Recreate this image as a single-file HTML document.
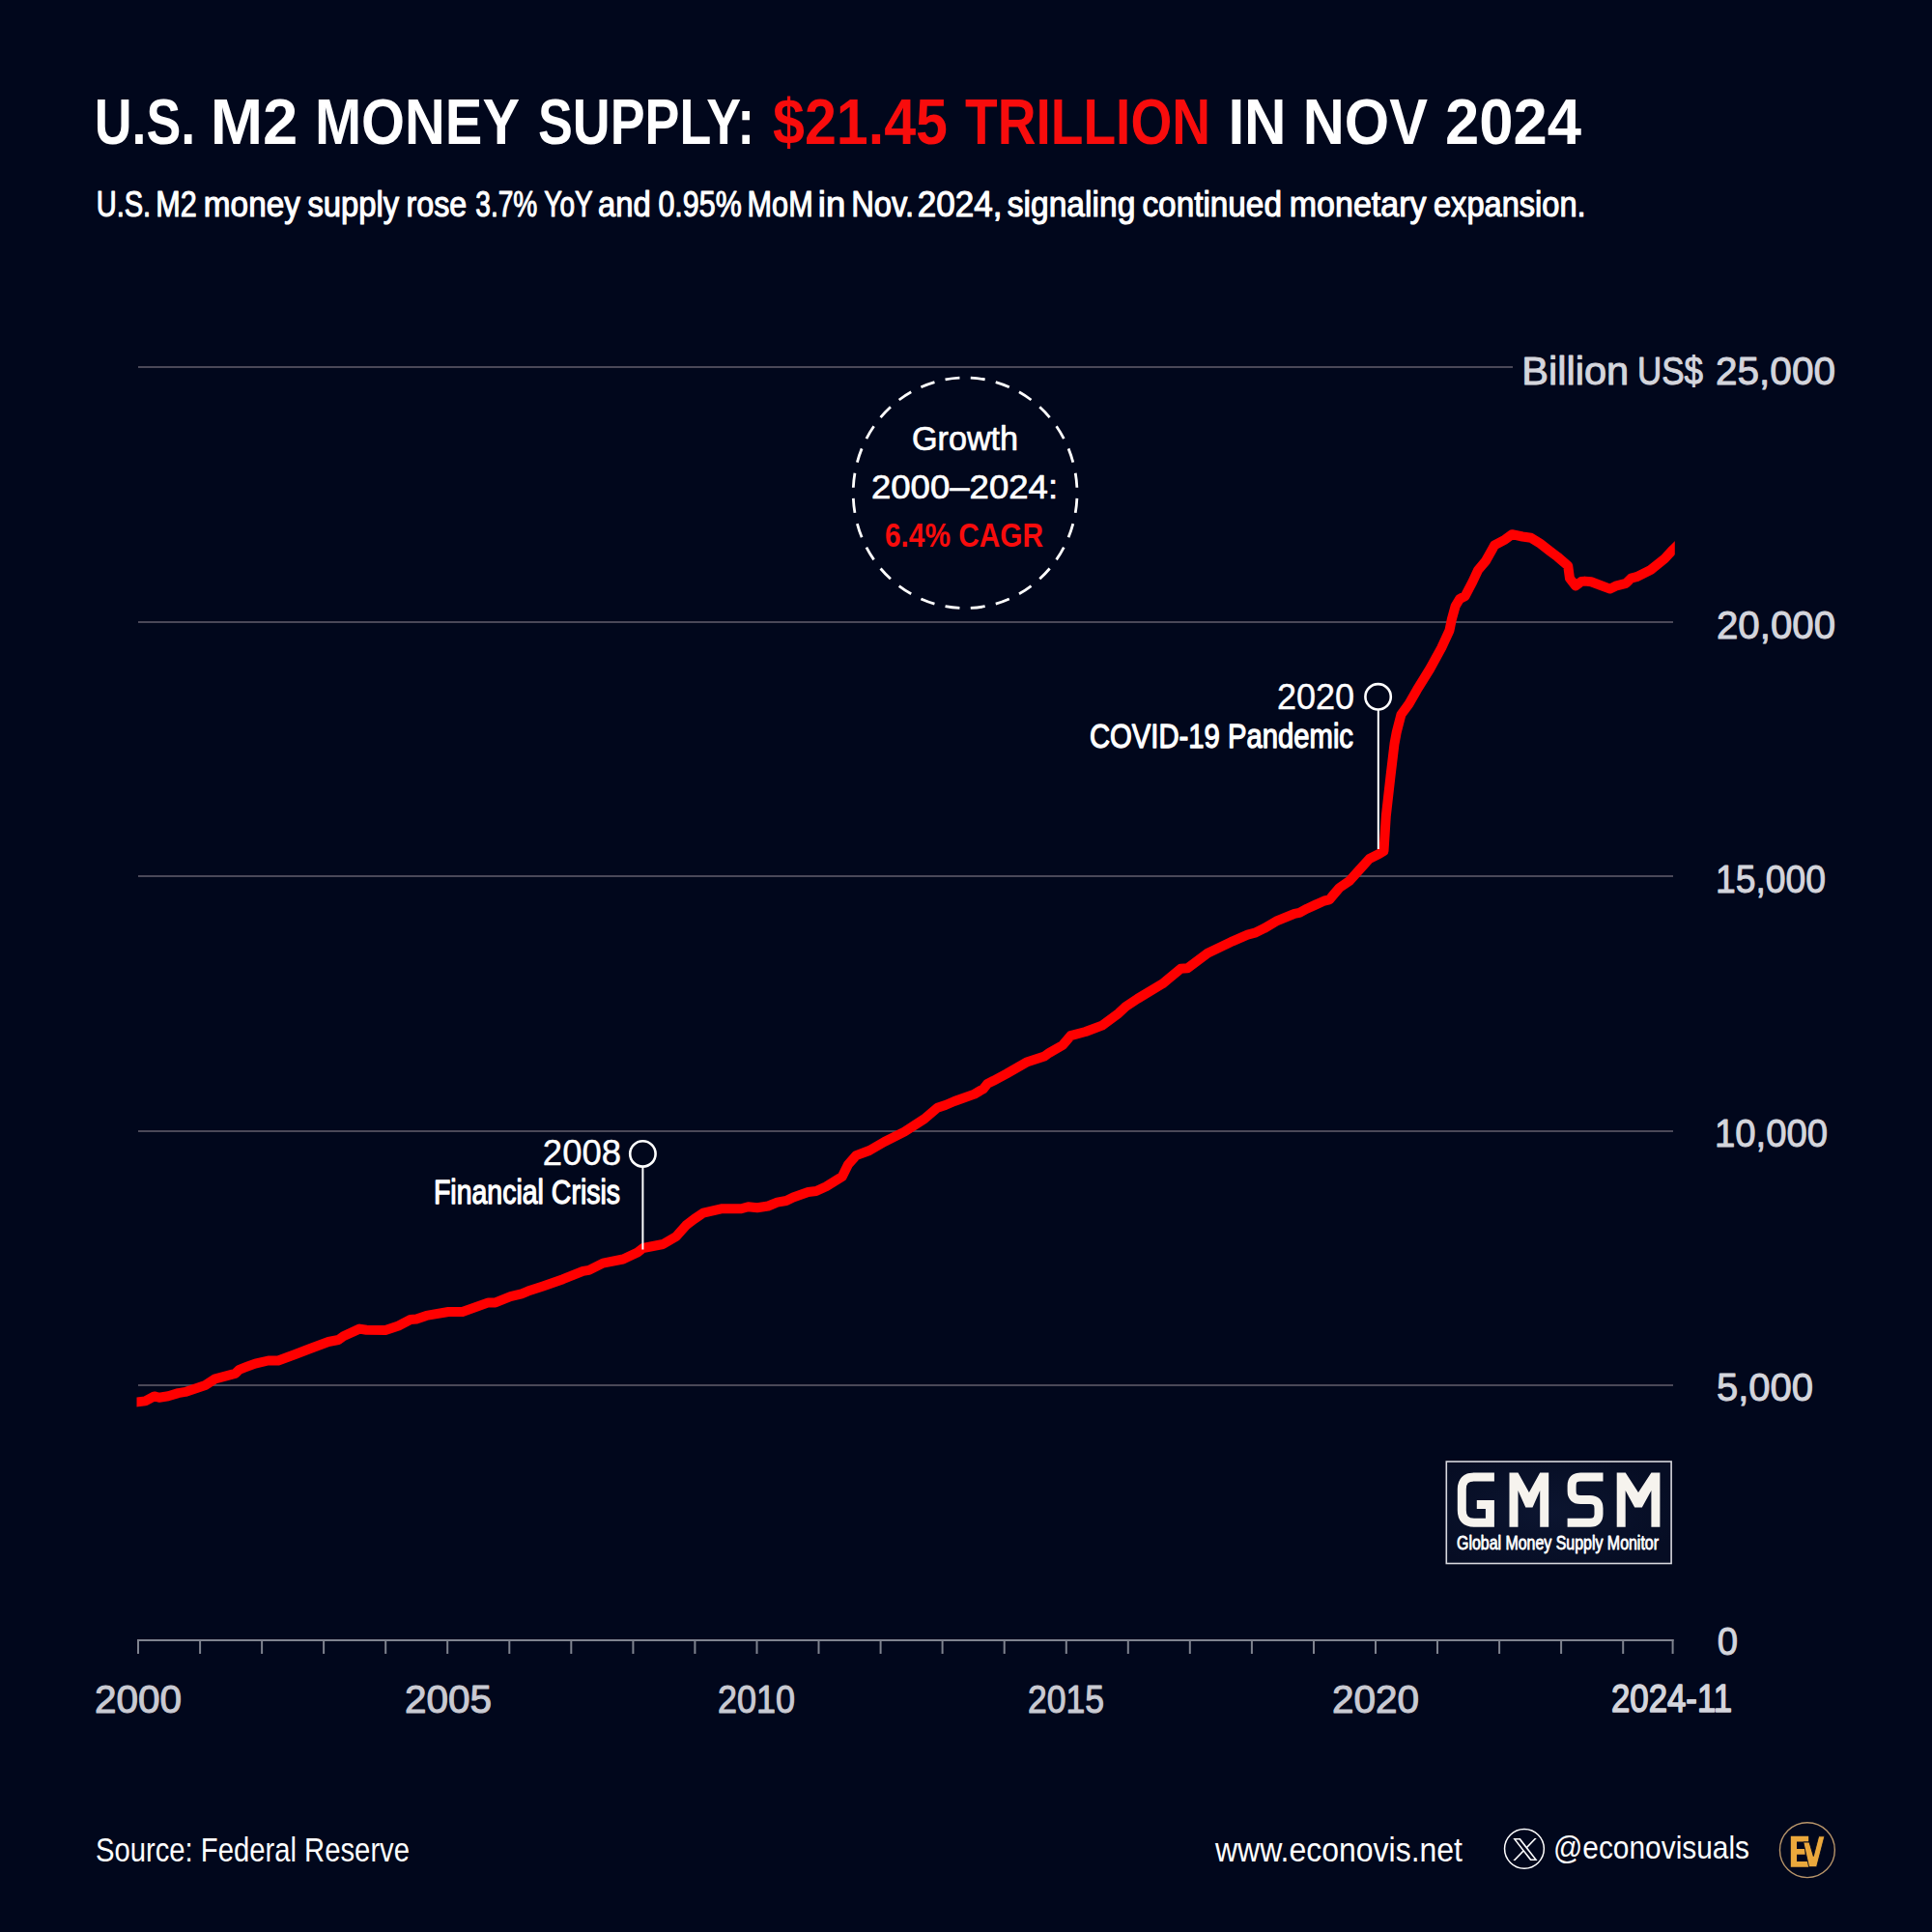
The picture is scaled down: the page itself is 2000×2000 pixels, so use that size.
<!DOCTYPE html>
<html><head><meta charset="utf-8"><style>
html,body{margin:0;padding:0;background:#01071c;overflow:hidden;}
svg{display:block;}
text{font-family:"Liberation Sans", sans-serif;}
</style></head><body>
<svg width="2000" height="2000" viewBox="0 0 2000 2000">
<rect width="2000" height="2000" fill="#01071c"/>
<line x1="143" y1="380" x2="1566" y2="380" stroke="#4a4858" stroke-width="2"/>
<line x1="143" y1="644" x2="1732" y2="644" stroke="#4a4858" stroke-width="2"/>
<line x1="143" y1="907" x2="1732" y2="907" stroke="#4a4858" stroke-width="2"/>
<line x1="143" y1="1171" x2="1732" y2="1171" stroke="#4a4858" stroke-width="2"/>
<line x1="143" y1="1434" x2="1732" y2="1434" stroke="#4a4858" stroke-width="2"/>
<line x1="142" y1="1698" x2="1732.5" y2="1698" stroke="#7f838f" stroke-width="2"/>
<line x1="143.0" y1="1697" x2="143.0" y2="1712" stroke="#7f838f" stroke-width="2"/>
<line x1="207.1" y1="1697" x2="207.1" y2="1712" stroke="#7f838f" stroke-width="2"/>
<line x1="271.1" y1="1697" x2="271.1" y2="1712" stroke="#7f838f" stroke-width="2"/>
<line x1="335.1" y1="1697" x2="335.1" y2="1712" stroke="#7f838f" stroke-width="2"/>
<line x1="399.2" y1="1697" x2="399.2" y2="1712" stroke="#7f838f" stroke-width="2"/>
<line x1="463.2" y1="1697" x2="463.2" y2="1712" stroke="#7f838f" stroke-width="2"/>
<line x1="527.3" y1="1697" x2="527.3" y2="1712" stroke="#7f838f" stroke-width="2"/>
<line x1="591.3" y1="1697" x2="591.3" y2="1712" stroke="#7f838f" stroke-width="2"/>
<line x1="655.4" y1="1697" x2="655.4" y2="1712" stroke="#7f838f" stroke-width="2"/>
<line x1="719.4" y1="1697" x2="719.4" y2="1712" stroke="#7f838f" stroke-width="2"/>
<line x1="783.5" y1="1697" x2="783.5" y2="1712" stroke="#7f838f" stroke-width="2"/>
<line x1="847.5" y1="1697" x2="847.5" y2="1712" stroke="#7f838f" stroke-width="2"/>
<line x1="911.6" y1="1697" x2="911.6" y2="1712" stroke="#7f838f" stroke-width="2"/>
<line x1="975.6" y1="1697" x2="975.6" y2="1712" stroke="#7f838f" stroke-width="2"/>
<line x1="1039.7" y1="1697" x2="1039.7" y2="1712" stroke="#7f838f" stroke-width="2"/>
<line x1="1103.8" y1="1697" x2="1103.8" y2="1712" stroke="#7f838f" stroke-width="2"/>
<line x1="1167.8" y1="1697" x2="1167.8" y2="1712" stroke="#7f838f" stroke-width="2"/>
<line x1="1231.8" y1="1697" x2="1231.8" y2="1712" stroke="#7f838f" stroke-width="2"/>
<line x1="1295.9" y1="1697" x2="1295.9" y2="1712" stroke="#7f838f" stroke-width="2"/>
<line x1="1360.0" y1="1697" x2="1360.0" y2="1712" stroke="#7f838f" stroke-width="2"/>
<line x1="1424.0" y1="1697" x2="1424.0" y2="1712" stroke="#7f838f" stroke-width="2"/>
<line x1="1488.0" y1="1697" x2="1488.0" y2="1712" stroke="#7f838f" stroke-width="2"/>
<line x1="1552.1" y1="1697" x2="1552.1" y2="1712" stroke="#7f838f" stroke-width="2"/>
<line x1="1616.1" y1="1697" x2="1616.1" y2="1712" stroke="#7f838f" stroke-width="2"/>
<line x1="1680.2" y1="1697" x2="1680.2" y2="1712" stroke="#7f838f" stroke-width="2"/>
<line x1="1731.6" y1="1697" x2="1731.6" y2="1712" stroke="#7f838f" stroke-width="2"/>
<clipPath id="cp"><rect x="141.5" y="300" width="1592.3" height="1400"/></clipPath>
<path d="M134.0 1452.5 L142.1 1451.4 L150.4 1450.4 L159.7 1445.4 L164.8 1446.8 L174.2 1445.2 L184.5 1442.1 L191.8 1440.9 L212.5 1434.0 L222.8 1427.3 L243.5 1421.9 L247.7 1417.8 L253.9 1415.4 L264.2 1411.6 L277.7 1408.5 L288.0 1408.5 L305.6 1402.0 L321.2 1396.0 L340.0 1389.0 L350.4 1387.0 L355.5 1383.3 L372.1 1375.6 L379.3 1376.8 L399.0 1377.1 L412.5 1372.5 L424.9 1366.0 L431.1 1365.4 L441.4 1361.9 L464.2 1358.0 L478.7 1358.0 L505.6 1348.4 L512.9 1348.4 L528.4 1342.2 L540.0 1339.3 L546.6 1336.6 L562.1 1331.4 L582.8 1324.2 L603.5 1315.9 L609.7 1314.9 L624.2 1307.6 L645.0 1303.5 L660.5 1296.2 L665.6 1292.0 L676.0 1290.0 L686.3 1288.0 L700.0 1280.0 L710.4 1268.2 L718.6 1262.0 L728.0 1255.7 L746.6 1251.3 L767.3 1251.3 L774.5 1249.2 L783.9 1250.2 L795.2 1248.5 L804.6 1244.7 L813.9 1243.0 L821.1 1239.5 L836.6 1234.0 L844.9 1233.0 L855.3 1228.3 L871.8 1218.0 L878.0 1205.5 L886.3 1196.2 L900.0 1191.0 L915.5 1182.0 L936.2 1171.6 L956.9 1158.2 L970.4 1146.8 L978.7 1144.0 L988.0 1140.0 L1008.7 1132.6 L1018.0 1127.1 L1022.2 1121.9 L1028.4 1118.8 L1041.8 1111.6 L1063.6 1099.2 L1081.2 1093.5 L1086.3 1089.8 L1100.0 1082.0 L1108.3 1072.2 L1123.8 1068.0 L1141.4 1061.3 L1158.0 1048.9 L1165.2 1042.1 L1177.6 1033.9 L1203.5 1018.3 L1222.2 1002.8 L1229.4 1002.3 L1250.1 986.7 L1276.0 974.3 L1291.5 967.6 L1300.0 965.3 L1308.6 961.1 L1321.0 953.7 L1340.0 945.9 L1345.2 944.9 L1352.9 940.7 L1360.7 937.1 L1371.0 932.5 L1376.2 931.4 L1380.4 926.3 L1386.6 919.0 L1397.0 911.8 L1407.3 900.4 L1417.6 889.0 L1428.0 883.8 L1432.5 881.0 L1434.8 845.0 L1439.5 803.5 L1443.5 770.0 L1445.8 757.7 L1450.5 739.6 L1458.5 728.7 L1466.8 714.2 L1480.2 692.5 L1492.2 670.7 L1500.5 652.6 L1502.7 641.7 L1506.7 627.2 L1510.9 620.2 L1516.7 617.0 L1524.3 602.5 L1530.1 590.1 L1538.0 580.7 L1545.3 567.7 L1547.1 564.4 L1558.0 558.6 L1565.2 553.2 L1576.1 555.5 L1584.8 556.8 L1594.2 562.6 L1605.1 570.9 L1612.3 576.4 L1623.2 585.8 L1625.0 598.8 L1631.0 606.5 L1637.0 602.0 L1640.6 601.6 L1647.1 602.3 L1666.7 609.6 L1672.5 606.7 L1683.3 603.8 L1688.4 598.7 L1694.2 597.2 L1708.7 590.0 L1723.2 578.4 L1731.9 569.0 L1738.0 563.0" fill="none" stroke="#ff0000" stroke-width="10" stroke-linejoin="round" clip-path="url(#cp)"/>
<ellipse cx="999.1" cy="510.3" rx="115.9" ry="119.3" fill="none" stroke="#ffffff" stroke-width="2.8" pathLength="280" stroke-dasharray="5.68 4.32" stroke-dashoffset="7.84"/>
<circle cx="665.4" cy="1194.4" r="13.2" fill="none" stroke="#ffffff" stroke-width="2.6"/>
<line x1="665.4" y1="1207.6" x2="665.4" y2="1293.5" stroke="#ffffff" stroke-width="2"/>
<circle cx="1426.6" cy="721.3" r="13.2" fill="none" stroke="#ffffff" stroke-width="2.6"/>
<line x1="1426.8" y1="734.5" x2="1426.8" y2="879" stroke="#ffffff" stroke-width="2"/>
<radialGradient id="gb" cx="0.45" cy="0.5" r="0.6"><stop offset="0" stop-color="#0c1530"/><stop offset="1" stop-color="#060d24"/></radialGradient>
<rect x="1497.3" y="1513" width="232.8" height="105.5" fill="url(#gb)" stroke="#d8d8de" stroke-width="1.6"/>
<g fill="none" stroke="#f6f3ee" stroke-width="9" stroke-linejoin="miter"><path d="M1546.9 1528.9 H1526 Q1513.3 1528.9 1513.3 1541.6 V1563.5 Q1513.3 1576.2 1526 1576.2 H1542.4 V1557.4 H1528.8"/><path d="M1659.5 1528.9 H1636.1 Q1627.1 1528.9 1627.1 1537.9 V1543.5 Q1627.1 1552.5 1636.1 1552.5 H1646 Q1655 1552.5 1655 1561.5 V1567.2 Q1655 1576.2 1646 1576.2 H1622.6"/></g>
<path fill="#f6f3ee" d="M1562.5 1580.7 V1524.4 H1571.5 L1582.9 1545 L1594.2 1524.4 H1603.2 V1580.7 H1594.2 V1543 L1586.5 1560.5 H1579.3 L1571.5 1543 V1580.7 Z"/>
<path fill="#f6f3ee" d="M1673.7 1580.7 V1524.4 H1682.7 L1696 1545 L1709.4 1524.4 H1718.4 V1580.7 H1709.4 V1543 L1699.8 1560.5 H1692.2 L1682.7 1543 V1580.7 Z"/>
<circle cx="1577.95" cy="1913.85" r="20.4" fill="none" stroke="#ffffff" stroke-width="1.5"/>
<path transform="translate(1566.3 1903.1) scale(0.02108 0.01866)" fill="#ffffff" d="M714.163 519.284L1160.89 0H1055.03L667.137 450.887L357.328 0H0L468.492 681.821L0 1226.37H105.866L515.491 750.218L842.672 1226.37H1200L714.137 519.284H714.163ZM569.165 687.828L521.697 619.934L144.011 79.6944H306.615L611.412 515.685L658.88 583.579L1055.08 1150.3H892.476L569.165 687.854V687.828Z"/>
<circle cx="1870.9" cy="1915.15" r="28.45" fill="none" stroke="#b8956a" stroke-width="1.4"/>
<path fill="#eba83c" d="M1853.8 1900.8 H1872.2 V1906.6 H1860 V1913.9 H1868.6 V1919.7 H1860 V1926.9 H1872.6 V1932.7 H1853.8 Z"/>
<path fill="#eba83c" stroke="#01071c" stroke-width="0.9" d="M1866.8 1907 H1873 L1877.3 1921.5 L1882.7 1900.8 H1888.9 L1880.6 1932.7 H1872.6 Z"/>
<text x="97.77" y="149" font-size="67" font-weight="bold" fill="#ffffff" textLength="104.53" lengthAdjust="spacingAndGlyphs">U.S.</text>
<text x="217.63" y="149" font-size="67" font-weight="bold" fill="#ffffff" textLength="90.62" lengthAdjust="spacingAndGlyphs">M2</text>
<text x="325.90" y="149" font-size="67" font-weight="bold" fill="#ffffff" textLength="212.12" lengthAdjust="spacingAndGlyphs">MONEY</text>
<text x="556.96" y="149" font-size="67" font-weight="bold" fill="#ffffff" textLength="224.21" lengthAdjust="spacingAndGlyphs">SUPPLY:</text>
<text x="799.97" y="149" font-size="67" font-weight="bold" fill="#f80c0c" textLength="181.09" lengthAdjust="spacingAndGlyphs">$21.45</text>
<text x="998.98" y="149" font-size="67" font-weight="bold" fill="#f80c0c" textLength="254.09" lengthAdjust="spacingAndGlyphs">TRILLION</text>
<text x="1271.42" y="149" font-size="67" font-weight="bold" fill="#ffffff" textLength="60.17" lengthAdjust="spacingAndGlyphs">IN</text>
<text x="1348.82" y="149" font-size="67" font-weight="bold" fill="#ffffff" textLength="129.21" lengthAdjust="spacingAndGlyphs">NOV</text>
<text x="1495.97" y="149" font-size="67" font-weight="bold" fill="#ffffff" textLength="141.06" lengthAdjust="spacingAndGlyphs">2024</text>
<text x="99.66" y="223.5" font-size="36" font-weight="normal" fill="#ffffff" textLength="56.49" lengthAdjust="spacingAndGlyphs" stroke="#ffffff" stroke-width="1.1" stroke-linejoin="round">U.S.</text>
<text x="161.23" y="223.5" font-size="36" font-weight="normal" fill="#ffffff" textLength="42.43" lengthAdjust="spacingAndGlyphs" stroke="#ffffff" stroke-width="1.1" stroke-linejoin="round">M2</text>
<text x="210.84" y="223.5" font-size="36" font-weight="normal" fill="#ffffff" textLength="100.09" lengthAdjust="spacingAndGlyphs" stroke="#ffffff" stroke-width="1.1" stroke-linejoin="round">money</text>
<text x="318.40" y="223.5" font-size="36" font-weight="normal" fill="#ffffff" textLength="94.82" lengthAdjust="spacingAndGlyphs" stroke="#ffffff" stroke-width="1.1" stroke-linejoin="round">supply</text>
<text x="420.62" y="223.5" font-size="36" font-weight="normal" fill="#ffffff" textLength="62.67" lengthAdjust="spacingAndGlyphs" stroke="#ffffff" stroke-width="1.1" stroke-linejoin="round">rose</text>
<text x="492.37" y="223.5" font-size="36" font-weight="normal" fill="#ffffff" textLength="63.96" lengthAdjust="spacingAndGlyphs" stroke="#ffffff" stroke-width="1.1" stroke-linejoin="round">3.7%</text>
<text x="563.32" y="223.5" font-size="36" font-weight="normal" fill="#ffffff" textLength="50.36" lengthAdjust="spacingAndGlyphs" stroke="#ffffff" stroke-width="1.1" stroke-linejoin="round">YoY</text>
<text x="618.94" y="223.5" font-size="36" font-weight="normal" fill="#ffffff" textLength="54.78" lengthAdjust="spacingAndGlyphs" stroke="#ffffff" stroke-width="1.1" stroke-linejoin="round">and</text>
<text x="681.38" y="223.5" font-size="36" font-weight="normal" fill="#ffffff" textLength="86.34" lengthAdjust="spacingAndGlyphs" stroke="#ffffff" stroke-width="1.1" stroke-linejoin="round">0.95%</text>
<text x="773.58" y="223.5" font-size="36" font-weight="normal" fill="#ffffff" textLength="68.14" lengthAdjust="spacingAndGlyphs" stroke="#ffffff" stroke-width="1.1" stroke-linejoin="round">MoM</text>
<text x="846.87" y="223.5" font-size="36" font-weight="normal" fill="#ffffff" textLength="28.43" lengthAdjust="spacingAndGlyphs" stroke="#ffffff" stroke-width="1.1" stroke-linejoin="round">in</text>
<text x="881.14" y="223.5" font-size="36" font-weight="normal" fill="#ffffff" textLength="64.99" lengthAdjust="spacingAndGlyphs" stroke="#ffffff" stroke-width="1.1" stroke-linejoin="round">Nov.</text>
<text x="949.65" y="223.5" font-size="36" font-weight="normal" fill="#ffffff" textLength="87.80" lengthAdjust="spacingAndGlyphs" stroke="#ffffff" stroke-width="1.1" stroke-linejoin="round">2024,</text>
<text x="1042.78" y="223.5" font-size="36" font-weight="normal" fill="#ffffff" textLength="132.55" lengthAdjust="spacingAndGlyphs" stroke="#ffffff" stroke-width="1.1" stroke-linejoin="round">signaling</text>
<text x="1182.45" y="223.5" font-size="36" font-weight="normal" fill="#ffffff" textLength="144.50" lengthAdjust="spacingAndGlyphs" stroke="#ffffff" stroke-width="1.1" stroke-linejoin="round">continued</text>
<text x="1334.76" y="223.5" font-size="36" font-weight="normal" fill="#ffffff" textLength="141.75" lengthAdjust="spacingAndGlyphs" stroke="#ffffff" stroke-width="1.1" stroke-linejoin="round">monetary</text>
<text x="1483.97" y="223.5" font-size="36" font-weight="normal" fill="#ffffff" textLength="157.70" lengthAdjust="spacingAndGlyphs" stroke="#ffffff" stroke-width="1.1" stroke-linejoin="round">expansion.</text>
<text x="1575.21" y="397.5" font-size="41" font-weight="normal" fill="#d4d5dc" textLength="110.99" lengthAdjust="spacingAndGlyphs" stroke="#d4d5dc" stroke-width="1.0" stroke-linejoin="round">Billion</text>
<text x="1694.95" y="397.5" font-size="41" font-weight="normal" fill="#d4d5dc" textLength="68.06" lengthAdjust="spacingAndGlyphs" stroke="#d4d5dc" stroke-width="1.0" stroke-linejoin="round">US$</text>
<text x="1775.93" y="397.5" font-size="41" font-weight="normal" fill="#d4d5dc" textLength="124.12" lengthAdjust="spacingAndGlyphs" stroke="#d4d5dc" stroke-width="1.0" stroke-linejoin="round">25,000</text>
<text x="1776.94" y="660.6" font-size="41" font-weight="normal" fill="#d4d5dc" textLength="123.12" lengthAdjust="spacingAndGlyphs" stroke="#d4d5dc" stroke-width="1.0" stroke-linejoin="round">20,000</text>
<text x="1775.90" y="923.7" font-size="41" font-weight="normal" fill="#d4d5dc" textLength="114.13" lengthAdjust="spacingAndGlyphs" stroke="#d4d5dc" stroke-width="1.0" stroke-linejoin="round">15,000</text>
<text x="1774.90" y="1186.8" font-size="41" font-weight="normal" fill="#d4d5dc" textLength="117.15" lengthAdjust="spacingAndGlyphs" stroke="#d4d5dc" stroke-width="1.0" stroke-linejoin="round">10,000</text>
<text x="1776.94" y="1449.9" font-size="41" font-weight="normal" fill="#d4d5dc" textLength="100.10" lengthAdjust="spacingAndGlyphs" stroke="#d4d5dc" stroke-width="1.0" stroke-linejoin="round">5,000</text>
<text x="1777.84" y="1713" font-size="41" font-weight="normal" fill="#d4d5dc" textLength="21.33" lengthAdjust="spacingAndGlyphs" stroke="#d4d5dc" stroke-width="1.0" stroke-linejoin="round">0</text>
<text x="97.90" y="1772.7" font-size="41" font-weight="normal" fill="#c9cad2" textLength="90.14" lengthAdjust="spacingAndGlyphs" stroke="#c9cad2" stroke-width="1.1" stroke-linejoin="round">2000</text>
<text x="418.91" y="1772.7" font-size="41" font-weight="normal" fill="#c9cad2" textLength="90.16" lengthAdjust="spacingAndGlyphs" stroke="#c9cad2" stroke-width="1.1" stroke-linejoin="round">2005</text>
<text x="742.93" y="1772.7" font-size="41" font-weight="normal" fill="#c9cad2" textLength="80.11" lengthAdjust="spacingAndGlyphs" stroke="#c9cad2" stroke-width="1.1" stroke-linejoin="round">2010</text>
<text x="1063.92" y="1772.7" font-size="41" font-weight="normal" fill="#c9cad2" textLength="79.11" lengthAdjust="spacingAndGlyphs" stroke="#c9cad2" stroke-width="1.1" stroke-linejoin="round">2015</text>
<text x="1378.93" y="1772.7" font-size="41" font-weight="normal" fill="#c9cad2" textLength="90.12" lengthAdjust="spacingAndGlyphs" stroke="#c9cad2" stroke-width="1.1" stroke-linejoin="round">2020</text>
<text x="1667.94" y="1772" font-size="41" font-weight="normal" fill="#d4d5dc" textLength="125.10" lengthAdjust="spacingAndGlyphs" stroke="#d4d5dc" stroke-width="1.6" stroke-linejoin="round">2024-11</text>
<text x="943.93" y="465.5" font-size="35.5" font-weight="normal" fill="#ffffff" textLength="110.15" lengthAdjust="spacingAndGlyphs" stroke="#ffffff" stroke-width="0.7" stroke-linejoin="round">Growth</text>
<text x="901.96" y="516" font-size="35.5" font-weight="normal" fill="#ffffff" textLength="193.14" lengthAdjust="spacingAndGlyphs" stroke="#ffffff" stroke-width="0.7" stroke-linejoin="round">2000–2024:</text>
<text x="915.97" y="566.4" font-size="35.5" font-weight="bold" fill="#f80c0c" textLength="164.05" lengthAdjust="spacingAndGlyphs">6.4% CAGR</text>
<text x="561.89" y="1205.5" font-size="36" font-weight="normal" fill="#ffffff" textLength="81.22" lengthAdjust="spacingAndGlyphs" stroke="#ffffff" stroke-width="0.4" stroke-linejoin="round">2008</text>
<text x="448.96" y="1246" font-size="35" font-weight="normal" fill="#ffffff" textLength="193.06" lengthAdjust="spacingAndGlyphs" stroke="#ffffff" stroke-width="1.3" stroke-linejoin="round">Financial Crisis</text>
<text x="1321.91" y="733.8" font-size="36" font-weight="normal" fill="#ffffff" textLength="80.15" lengthAdjust="spacingAndGlyphs" stroke="#ffffff" stroke-width="0.4" stroke-linejoin="round">2020</text>
<text x="1127.99" y="774.2" font-size="35" font-weight="normal" fill="#ffffff" textLength="273.01" lengthAdjust="spacingAndGlyphs" stroke="#ffffff" stroke-width="1.3" stroke-linejoin="round">COVID-19 Pandemic</text>
<text x="1507.99" y="1603.7" font-size="19.5" font-weight="normal" fill="#ffffff" textLength="209.01" lengthAdjust="spacingAndGlyphs" stroke="#ffffff" stroke-width="0.8" stroke-linejoin="round">Global Money Supply Monitor</text>
<text x="98.98" y="1927.3" font-size="35.5" font-weight="normal" fill="#ffffff" textLength="325.04" lengthAdjust="spacingAndGlyphs">Source: Federal Reserve</text>
<text x="1258.00" y="1927" font-size="35" font-weight="normal" fill="#ffffff" textLength="256.01" lengthAdjust="spacingAndGlyphs">www.econovis.net</text>
<text x="1607.94" y="1924.3" font-size="33" font-weight="normal" fill="#ffffff" textLength="203.10" lengthAdjust="spacingAndGlyphs">@econovisuals</text>
</svg>
</body></html>
